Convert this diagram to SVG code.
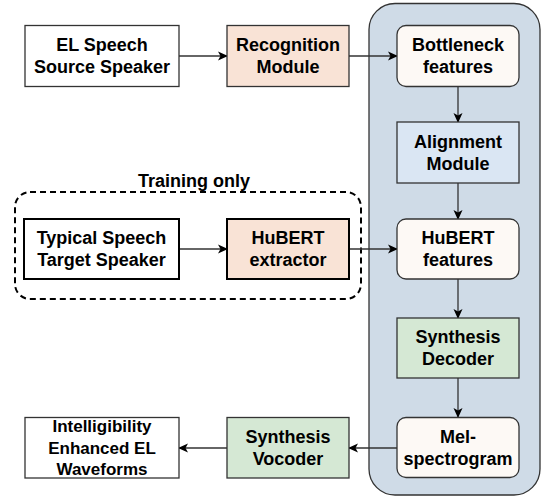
<svg xmlns="http://www.w3.org/2000/svg" width="542" height="498" viewBox="0 0 542 498">
<defs>
<style>
text{font-family:"Liberation Sans",Arial,Helvetica,sans-serif;font-weight:bold;font-size:18px;fill:#000;text-anchor:middle}
.b{stroke:#333;stroke-width:1.3}
.thick{stroke:#000;stroke-width:2}
.white{fill:#fff}
.peach{fill:#f9e3d6}
.cream{fill:#fdf9f5}
.blue{fill:#dae6f3}
.green{fill:#d5e8d4}
.c{fill:none;stroke:#333;stroke-width:1.3}
</style>
<marker id="ah" markerWidth="10" markerHeight="10" viewBox="0 0 10 10" refX="9" refY="5" orient="auto" markerUnits="userSpaceOnUse">
<path d="M0,0.5 L10,5 L0,9.5 L2.5,5 Z" fill="#000"/>
</marker>
</defs>
<rect width="542" height="498" fill="#fff"/>
<g id="container">
<rect x="369" y="3.5" width="171" height="491.5" rx="26" fill="#cfdbe7" stroke="#333" stroke-width="1.3"/>
</g>
<g id="training-only">
<rect x="15" y="192" width="346" height="107" rx="15" fill="none" stroke="#000" stroke-width="2" stroke-dasharray="6 4"/>
<text x="194" y="187">Training only</text>
</g>
<g id="connectors">
<line class="c" x1="179" y1="56" x2="227" y2="56" marker-end="url(#ah)"/>
<line class="c" x1="349" y1="56" x2="397" y2="56" marker-end="url(#ah)"/>
<line class="c" x1="458" y1="87" x2="458" y2="122" marker-end="url(#ah)"/>
<line class="c" x1="458" y1="183" x2="458" y2="219" marker-end="url(#ah)"/>
<line class="c" x1="179" y1="249" x2="227" y2="249" marker-end="url(#ah)"/>
<line class="c" x1="349" y1="249" x2="397" y2="249" marker-end="url(#ah)"/>
<line class="c" x1="458" y1="279" x2="458" y2="318" marker-end="url(#ah)"/>
<line class="c" x1="458" y1="378" x2="458" y2="417" marker-end="url(#ah)"/>
<line class="c" x1="397" y1="448" x2="349" y2="448" marker-end="url(#ah)"/>
<line class="c" x1="227" y1="448" x2="179" y2="448" marker-end="url(#ah)"/>
</g>
<g id="el-speech">
<rect class="b white" x="25" y="25.5" width="154" height="61"/>
<text x="102" y="51">EL Speech</text>
<text x="102" y="73">Source Speaker</text>
</g>
<g id="recognition">
<rect class="b peach" x="227" y="25.5" width="122" height="61"/>
<text x="288" y="51">Recognition</text>
<text x="288" y="73">Module</text>
</g>
<g id="bottleneck">
<rect class="b cream" x="397" y="25.5" width="122" height="61" rx="9"/>
<text x="458" y="51">Bottleneck</text>
<text x="458" y="73">features</text>
</g>
<g id="alignment">
<rect class="b blue" x="397" y="122" width="122" height="61"/>
<text x="458" y="147.5">Alignment</text>
<text x="458" y="169.5">Module</text>
</g>
<g id="typical-speech">
<rect class="thick white" x="24" y="219" width="155" height="60"/>
<text x="101.5" y="244">Typical Speech</text>
<text x="101.5" y="266">Target Speaker</text>
</g>
<g id="hubert-extractor">
<rect class="thick peach" x="227" y="219" width="122" height="60"/>
<text x="288" y="244">HuBERT</text>
<text x="288" y="266">extractor</text>
</g>
<g id="hubert-features">
<rect class="b cream" x="397" y="219" width="122" height="60" rx="9"/>
<text x="458" y="244">HuBERT</text>
<text x="458" y="266">features</text>
</g>
<g id="synthesis-decoder">
<rect class="b green" x="397" y="318" width="122" height="60"/>
<text x="458" y="343">Synthesis</text>
<text x="458" y="365">Decoder</text>
</g>
<g id="mel">
<rect class="b cream" x="397" y="417.5" width="122" height="60" rx="9"/>
<text x="458" y="443">Mel-</text>
<text x="458" y="465">spectrogram</text>
</g>
<g id="vocoder">
<rect class="b green" x="227" y="417.5" width="122" height="60.5"/>
<text x="288" y="443">Synthesis</text>
<text x="288" y="465">Vocoder</text>
</g>
<g id="output">
<rect class="b white" x="25" y="417.5" width="154" height="60.5"/>
<text x="102" y="432" style="font-size:17px">Intelligibility</text>
<text x="102" y="453.5" style="font-size:17px">Enhanced EL</text>
<text x="102" y="474.5" style="font-size:17px">Waveforms</text>
</g>
</svg>
